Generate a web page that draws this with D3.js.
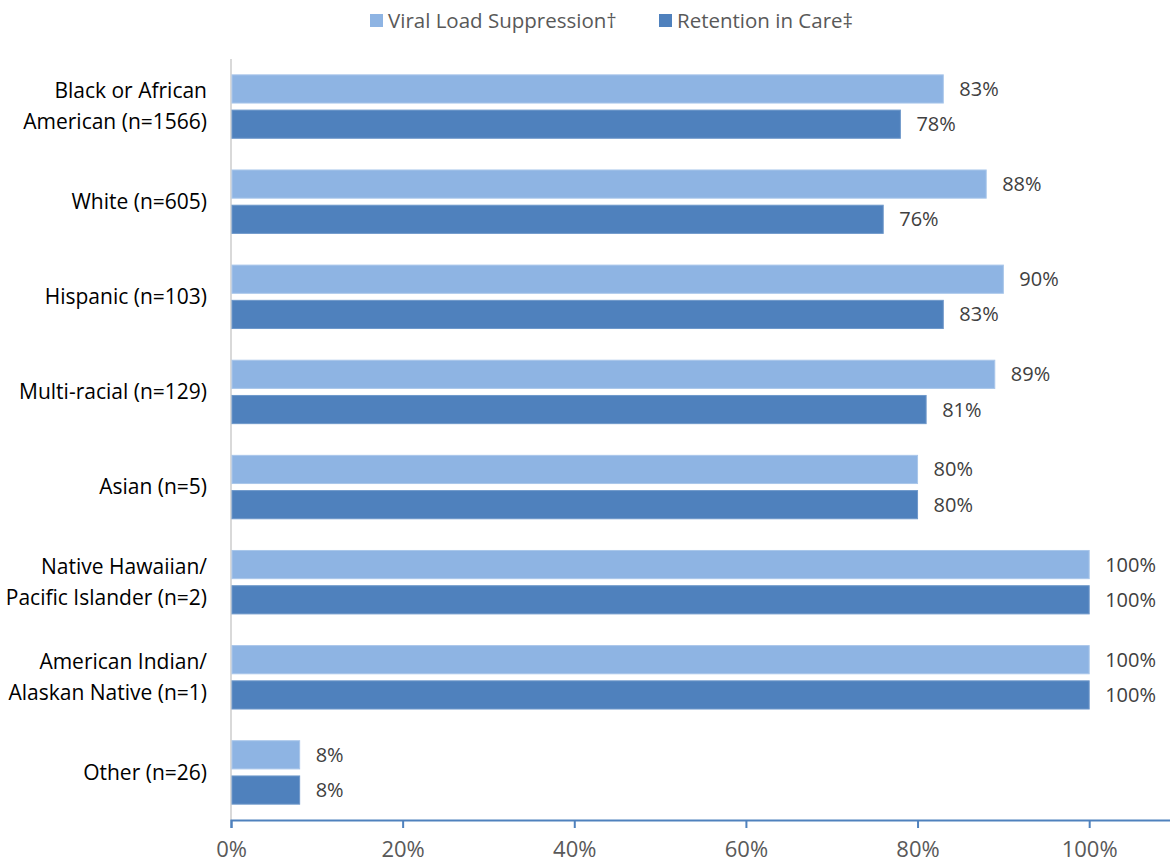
<!DOCTYPE html>
<html>
<head>
	<meta charset="utf-8">
	<title>Viral load suppression and retention in care</title>
	<script src="https://cdn.jsdelivr.net/npm/d3@7"></script>
	<style>
		body { margin: 0; background: #fff; }
		text { font-family: "Open Sans", "Liberation Sans", sans-serif; }
	</style>
</head>
<body>
	<svg id="chart" width="1170" height="863"></svg>
	<script type="text/javascript">
		var categories = [
			["Black or African", "American (n=1566)"],
			["White (n=605)"],
			["Hispanic (n=103)"],
			["Multi-racial (n=129)"],
			["Asian (n=5)"],
			["Native Hawaiian/", "Pacific Islander (n=2)"],
			["American Indian/", "Alaskan Native (n=1)"],
			["Other (n=26)"]
		];
		var viralLoad = [83, 88, 90, 89, 80, 100, 100, 8];
		var retention = [78, 76, 83, 81, 80, 100, 100, 8];
		var seriesNames = ["Viral Load Suppression\u2020", "Retention in Care\u2021"];
		var xTicks = [0, 20, 40, 60, 80, 100];

		var lightBlue = "#8eb4e3", darkBlue = "#4f81bd";

		var svg = d3.select("#chart");
		var plotLeft = 231, plotRight = 1175, plotTop = 59, plotBottom = 820;

		var x = d3.scaleLinear().domain([0, 110]).range([plotLeft, plotRight]);
		var y = d3.scaleBand().domain(d3.range(categories.length)).range([plotTop, plotBottom]);
		var inner = d3.scaleBand().domain([0, 1]).range([0, y.bandwidth()])
			.paddingInner(0.2).paddingOuter(0.45);

		// left axis (plain grey line)
		svg.append("line")
			.attr("x1", plotLeft).attr("x2", plotLeft)
			.attr("y1", plotTop).attr("y2", plotBottom)
			.attr("stroke", "#d9d9d9").attr("stroke-width", 2);

		var series = [viralLoad, retention];
		var colors = [lightBlue, darkBlue];
		var strokes = ["#a9c6ea", "#6f98ca"];

		series.forEach(function(vals, s) {
			var g = svg.append("g");
			g.selectAll("rect").data(vals).enter().append("rect")
				.attr("x", x(0) + 1)
				.attr("y", function(d, i) { return y(i) + inner(s); })
				.attr("width", function(d) { return x(d) - x(0) - 1; })
				.attr("height", inner.bandwidth())
				.attr("fill", colors[s])
				.attr("stroke", strokes[s])
				.attr("stroke-width", 1);
			g.selectAll("text").data(vals).enter().append("text")
				.attr("x", function(d) { return x(d) + 16; })
				.attr("y", function(d, i) { return y(i) + inner(s) + inner.bandwidth() / 2; })
				.attr("dy", "0.35em")
				.attr("font-size", 20)
				.attr("fill", "#404040")
				.text(function(d) { return d + "%"; });
		});

		// category labels
		var labels = svg.append("g");
		categories.forEach(function(lines, i) {
			var cy = y(i) + y.bandwidth() / 2;
			var t = labels.append("text")
				.attr("text-anchor", "end")
				.attr("font-size", 21)
				.attr("fill", "#000");
			lines.forEach(function(line, k) {
				t.append("tspan")
					.attr("x", 207)
					.attr("y", cy + (k - (lines.length - 1) / 2) * 31)
					.attr("dy", "0.35em")
					.text(line);
			});
		});

		// bottom axis
		var xAxis = d3.axisBottom(x).tickValues(xTicks)
			.tickFormat(function(d) { return d + "%"; })
			.tickSize(8).tickPadding(13);
		var ax = svg.append("g").attr("transform", "translate(0," + plotBottom + ")").call(xAxis);
		ax.select(".domain").attr("stroke", darkBlue).attr("stroke-width", 2);
		ax.selectAll(".tick line").attr("stroke", darkBlue).attr("stroke-width", 2);
		ax.selectAll(".tick text")
			.attr("font-size", 22)
			.attr("fill", "#595959");

		// legend
		var legendX = [370, 659];
		var legend = svg.append("g");
		seriesNames.forEach(function(name, s) {
			legend.append("rect")
				.attr("x", legendX[s]).attr("y", 14)
				.attr("width", 13).attr("height", 13)
				.attr("fill", colors[s]);
			legend.append("text")
				.attr("x", legendX[s] + 18).attr("y", 21)
				.attr("dy", "0.35em")
				.attr("font-size", 20.5)
				.attr("fill", "#595959")
				.text(name);
		});
	</script>
</body>
</html>
